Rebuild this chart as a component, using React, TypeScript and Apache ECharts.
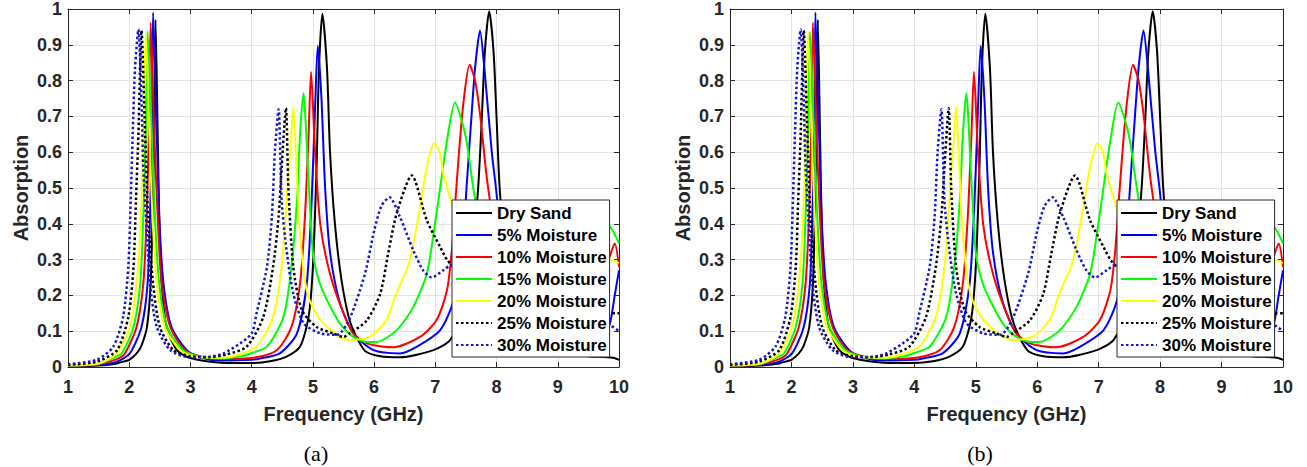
import React, { useEffect, useRef } from "react";
import * as echarts from "echarts";

// ---------- data ----------
const SERIES_NAMES = [
  "Dry Sand",
  "5% Moisture",
  "10% Moisture",
  "15% Moisture",
  "20% Moisture",
  "25% Moisture",
  "30% Moisture",
];

const DRY_SAND: [number, number][] = [
  [1.0, 0.002], [1.5, 0.004], [1.8, 0.01], [1.9, 0.015], [2.0, 0.02], [2.12, 0.038], [2.2, 0.06],
  [2.29, 0.112], [2.35, 0.233], [2.38, 0.42], [2.41, 0.65], [2.43, 0.97], [2.465, 0.65], [2.49, 0.42],
  [2.53, 0.233], [2.61, 0.112], [2.78, 0.047], [3.0, 0.025], [3.5, 0.012], [4.0, 0.011], [4.3, 0.016],
  [4.57, 0.029], [4.79, 0.057], [4.93, 0.14], [5.0, 0.28], [5.06, 0.558], [5.1, 0.836], [5.155, 0.987],
  [5.23, 0.836], [5.28, 0.6], [5.36, 0.4], [5.47, 0.24], [5.62, 0.12], [5.85, 0.045], [6.1, 0.03],
  [6.42, 0.027], [6.97, 0.047], [7.24, 0.075], [7.45, 0.15], [7.6, 0.3], [7.7, 0.502], [7.76, 0.697],
  [7.81, 0.883], [7.88, 0.994], [7.95, 0.883], [8.0, 0.697], [8.05, 0.502], [8.15, 0.3], [8.3, 0.15],
  [8.6, 0.07], [9.0, 0.04], [9.5, 0.03], [9.9, 0.026], [10.0, 0.02],
];

const MOIST_05: [number, number][] = [
  [1.0, 0.003], [1.5, 0.006], [1.8, 0.015], [2.01, 0.038], [2.2, 0.112], [2.3, 0.233], [2.34, 0.42],
  [2.37, 0.65], [2.39, 0.99], [2.45, 0.65], [2.49, 0.42], [2.56, 0.233], [2.69, 0.112], [2.94, 0.047],
  [3.2, 0.025], [3.5, 0.018], [4.0, 0.02], [4.14, 0.024], [4.46, 0.038], [4.74, 0.094], [4.9, 0.233],
  [4.98, 0.465], [5.04, 0.744], [5.08, 0.897], [5.14, 0.75], [5.2, 0.5], [5.28, 0.32], [5.44, 0.18],
  [5.66, 0.094], [5.99, 0.047], [6.42, 0.038], [6.7, 0.057], [7.08, 0.103], [7.3, 0.187], [7.45, 0.35],
  [7.51, 0.502], [7.57, 0.65], [7.65, 0.836], [7.73, 0.94], [7.8, 0.836], [7.92, 0.604], [8.0, 0.484],
  [8.1, 0.3], [8.3, 0.15], [8.6, 0.08], [9.0, 0.06], [9.5, 0.07], [9.75, 0.09], [9.85, 0.12],
  [9.93, 0.2], [10.0, 0.27],
];

const MOIST_10: [number, number][] = [
  [1.0, 0.003], [1.5, 0.008], [1.8, 0.022], [1.93, 0.038], [2.12, 0.112], [2.23, 0.233], [2.285, 0.42],
  [2.32, 0.65], [2.35, 0.962], [2.41, 0.65], [2.465, 0.42], [2.53, 0.233], [2.67, 0.112], [2.91, 0.047],
  [3.2, 0.028], [3.5, 0.022], [4.03, 0.026], [4.41, 0.047], [4.65, 0.112], [4.79, 0.233], [4.87, 0.42],
  [4.93, 0.65], [4.97, 0.825], [5.03, 0.62], [5.12, 0.4], [5.28, 0.26], [5.5, 0.15], [5.66, 0.094],
  [5.88, 0.066], [6.31, 0.055], [6.75, 0.084], [7.02, 0.131], [7.19, 0.214], [7.27, 0.326], [7.32, 0.446],
  [7.38, 0.585], [7.46, 0.74], [7.56, 0.844], [7.65, 0.8], [7.73, 0.706], [7.84, 0.53], [7.95, 0.4],
  [8.1, 0.25], [8.4, 0.13], [8.8, 0.1], [9.3, 0.13], [9.7, 0.25], [9.85, 0.31], [9.93, 0.345],
  [10.0, 0.28],
];

const MOIST_15: [number, number][] = [
  [1.0, 0.004], [1.5, 0.009], [1.8, 0.03], [1.88, 0.038], [2.07, 0.112], [2.18, 0.233], [2.23, 0.42],
  [2.27, 0.65], [2.3, 0.937], [2.37, 0.65], [2.42, 0.42], [2.49, 0.233], [2.62, 0.112], [2.88, 0.047],
  [3.2, 0.027], [3.5, 0.024], [3.81, 0.029], [4.0, 0.039], [4.25, 0.057], [4.52, 0.14], [4.65, 0.28],
  [4.74, 0.465], [4.79, 0.65], [4.845, 0.765], [4.92, 0.55], [5.0, 0.32], [5.1, 0.24], [5.23, 0.187],
  [5.44, 0.122], [5.66, 0.084], [5.88, 0.07], [6.04, 0.07], [6.37, 0.103], [6.64, 0.168], [6.86, 0.26],
  [6.97, 0.372], [7.08, 0.502], [7.19, 0.632], [7.32, 0.739], [7.46, 0.67], [7.53, 0.61], [7.62, 0.5],
  [7.75, 0.38], [7.9, 0.28], [8.2, 0.18], [8.6, 0.16], [9.2, 0.22], [9.6, 0.35], [9.8, 0.4],
  [9.9, 0.38], [10.0, 0.345],
];

const MOIST_20: [number, number][] = [
  [1.0, 0.005], [1.5, 0.01], [1.8, 0.038], [2.01, 0.112], [2.12, 0.233], [2.19, 0.42], [2.23, 0.65],
  [2.27, 0.934], [2.33, 0.65], [2.38, 0.42], [2.45, 0.233], [2.58, 0.112], [2.83, 0.047], [3.1, 0.028],
  [3.5, 0.026], [3.7, 0.03], [4.08, 0.057], [4.35, 0.14], [4.49, 0.28], [4.57, 0.465], [4.63, 0.604],
  [4.68, 0.728], [4.72, 0.6], [4.77, 0.42], [4.84, 0.28], [4.92, 0.2], [5.05, 0.15], [5.17, 0.122],
  [5.44, 0.084], [5.6, 0.075], [5.93, 0.085], [6.2, 0.131], [6.35, 0.2], [6.45, 0.24], [6.55, 0.28],
  [6.62, 0.326], [6.75, 0.446], [6.86, 0.558], [6.98, 0.625], [7.07, 0.6], [7.13, 0.54], [7.27, 0.456],
  [7.4, 0.38], [7.6, 0.3], [7.9, 0.22], [8.4, 0.2], [9.0, 0.24], [9.5, 0.3], [9.85, 0.3], [10.0, 0.29],
];

const MOIST_25: [number, number][] = [
  [1.0, 0.006], [1.47, 0.015], [1.8, 0.047], [1.985, 0.14], [2.07, 0.28], [2.11, 0.465], [2.15, 0.65],
  [2.2, 0.94], [2.26, 0.65], [2.31, 0.42], [2.39, 0.233], [2.5, 0.112], [2.72, 0.047], [3.0, 0.03],
  [3.3, 0.028], [3.59, 0.035], [3.92, 0.057], [4.19, 0.14], [4.35, 0.28], [4.44, 0.42], [4.49, 0.558],
  [4.56, 0.723], [4.6, 0.5], [4.68, 0.28], [4.82, 0.159], [5.06, 0.112], [5.33, 0.094], [5.5, 0.084],
  [5.6, 0.094], [5.88, 0.13], [6.1, 0.205], [6.23, 0.317], [6.37, 0.43], [6.615, 0.535], [6.86, 0.41],
  [7.08, 0.335], [7.19, 0.3], [7.3, 0.28], [7.6, 0.25], [8.0, 0.24], [8.6, 0.2], [9.3, 0.16],
  [9.8, 0.15], [10.0, 0.15],
];

const MOIST_30: [number, number][] = [
  [1.0, 0.008], [1.47, 0.02], [1.74, 0.057], [1.9, 0.14], [1.985, 0.28], [2.024, 0.465], [2.057, 0.65],
  [2.095, 0.836], [2.15, 0.943], [2.2, 0.744], [2.23, 0.558], [2.29, 0.372], [2.34, 0.233], [2.45, 0.112],
  [2.67, 0.047], [2.99, 0.027], [3.3, 0.028], [3.54, 0.038], [3.81, 0.066], [4.0, 0.094], [4.08, 0.15],
  [4.25, 0.28], [4.33, 0.42], [4.38, 0.604], [4.44, 0.72], [4.49, 0.465], [4.57, 0.326], [4.68, 0.205],
  [4.85, 0.122], [5.12, 0.094], [5.4, 0.09], [5.6, 0.135], [5.85, 0.26], [6.0, 0.38], [6.12, 0.45],
  [6.25, 0.474], [6.42, 0.42], [6.64, 0.326], [6.8, 0.27], [6.94, 0.25], [7.13, 0.27], [7.27, 0.285],
  [7.6, 0.27], [8.0, 0.2], [8.6, 0.14], [9.3, 0.12], [9.8, 0.12], [10.0, 0.1],
];

const SERIES_DATA = [DRY_SAND, MOIST_05, MOIST_10, MOIST_15, MOIST_20, MOIST_25, MOIST_30];

const PANEL_LABELS = ["(a)", "(b)"];
const X_NAME = "Frequency (GHz)";
const Y_NAME = "Absorption";
const X_MIN = 1;
const X_MAX = 10;
const X_STEP = 1;
const Y_MIN = 0;
const Y_MAX = 1;
const Y_STEP = 0.1;

// ---------- styles / layout ----------
const COLORS = ["#000000", "#0000ff", "#ff0000", "#00ff00", "#ffff00", "#000000", "#1414d2"];
const DOTTED = [false, false, false, false, false, true, true];
const FONT = 'Arial, "Liberation Sans", Helvetica, sans-serif';
const AXIS_COLOR = "#262626";

const GRIDS = [
  { left: 68, top: 8, width: 551, height: 359 },
  { left: 730, top: 8, width: 553, height: 359 },
];
const LEGEND_POS = [
  { left: 452, top: 200 },
  { left: 1117, top: 200 },
];
const CAPTION_POS = [
  { x: 316, y: 453 },
  { x: 980, y: 453 },
];

function buildOption() {
  const xAxis: any[] = [];
  const yAxis: any[] = [];
  const series: any[] = [];
  const legend: any[] = [];
  const graphic: any[] = [];

  GRIDS.forEach((_, gi) => {
    xAxis.push({
      type: "value",
      gridIndex: gi,
      position: "bottom",
      min: X_MIN,
      max: X_MAX,
      interval: X_STEP,
      name: X_NAME,
      nameLocation: "middle",
      nameGap: 37,
      nameTextStyle: { fontFamily: FONT, fontWeight: "bold", fontSize: 20, color: AXIS_COLOR },
      axisLine: { show: true, onZero: false, lineStyle: { color: AXIS_COLOR, width: 1 } },
      axisTick: { show: true, inside: true, length: 5, lineStyle: { color: AXIS_COLOR } },
      axisLabel: { fontFamily: FONT, fontWeight: "bold", fontSize: 18, color: AXIS_COLOR, margin: 11 },
      splitLine: { show: true, lineStyle: { color: "#e3e3e3", width: 1 } },
    });
    xAxis.push({
      type: "value",
      gridIndex: gi,
      position: "top",
      min: X_MIN,
      max: X_MAX,
      interval: X_STEP,
      axisLine: { show: true, onZero: false, lineStyle: { color: AXIS_COLOR, width: 1 } },
      axisTick: { show: true, inside: true, length: 5, lineStyle: { color: AXIS_COLOR } },
      axisLabel: { show: false },
      splitLine: { show: false },
    });
    yAxis.push({
      type: "value",
      gridIndex: gi,
      position: "left",
      min: Y_MIN,
      max: Y_MAX,
      interval: Y_STEP,
      name: Y_NAME,
      nameLocation: "middle",
      nameGap: 37,
      nameTextStyle: { fontFamily: FONT, fontWeight: "bold", fontSize: 20, color: AXIS_COLOR },
      axisLine: { show: true, onZero: false, lineStyle: { color: AXIS_COLOR, width: 1 } },
      axisTick: { show: true, inside: true, length: 5, lineStyle: { color: AXIS_COLOR } },
      axisLabel: { fontFamily: FONT, fontWeight: "bold", fontSize: 18, color: AXIS_COLOR, margin: 6 },
      splitLine: { show: true, lineStyle: { color: "#e3e3e3", width: 1 } },
    });
    yAxis.push({
      type: "value",
      gridIndex: gi,
      position: "right",
      min: Y_MIN,
      max: Y_MAX,
      interval: Y_STEP,
      axisLine: { show: true, onZero: false, lineStyle: { color: AXIS_COLOR, width: 1 } },
      axisTick: { show: true, inside: true, length: 5, lineStyle: { color: AXIS_COLOR } },
      axisLabel: { show: false },
      splitLine: { show: false },
    });

    SERIES_NAMES.forEach((name, si) => {
      series.push({
        type: "line",
        name,
        xAxisIndex: gi * 2,
        yAxisIndex: gi * 2,
        data: SERIES_DATA[si],
        symbol: "none",
        smooth: 0.25,
        clip: true,
        lineStyle: {
          color: COLORS[si],
          width: DOTTED[si] ? 2.5 : 2,
          type: DOTTED[si] ? [2.5, 2.5] : "solid",
        },
        itemStyle: { color: COLORS[si] },
        emphasis: { disabled: true },
        z: 2,
      });
    });

    legend.push({
      orient: "vertical",
      left: LEGEND_POS[gi].left,
      top: LEGEND_POS[gi].top,
      data: SERIES_NAMES,
      itemWidth: 36,
      itemHeight: 10,
      itemGap: 4,
      padding: [4, 3, 3, 3],
      backgroundColor: "#ffffff",
      borderColor: AXIS_COLOR,
      borderWidth: 1,
      selectedMode: false,
      itemStyle: { opacity: 0 },
      textStyle: { fontFamily: FONT, fontWeight: "bold", fontSize: 17, color: "#000", lineHeight: 18 },
      z: 10,
    });

    graphic.push({
      type: "text",
      x: CAPTION_POS[gi].x,
      y: CAPTION_POS[gi].y,
      style: {
        text: PANEL_LABELS[gi],
        fontFamily: '"Liberation Serif", "Times New Roman", serif',
        fontSize: 22,
        fill: "#000",
        align: "center",
        verticalAlign: "middle",
      },
    });
  });

  return {
    animation: false,
    backgroundColor: "#ffffff",
    grid: GRIDS.map((g) => ({ ...g, containLabel: false, show: false })),
    xAxis,
    yAxis,
    legend,
    series,
    graphic,
  };
}

export default function App() {
  const ref = useRef<HTMLDivElement | null>(null);
  useEffect(() => {
    if (!ref.current) return;
    const chart = echarts.init(ref.current, undefined, { renderer: "svg" });
    chart.setOption(buildOption() as any);
    return () => chart.dispose();
  }, []);
  return (
    <div
      ref={ref}
      style={{ position: "fixed", left: 0, top: 0, width: 1307, height: 467, background: "#fff" }}
    />
  );
}
